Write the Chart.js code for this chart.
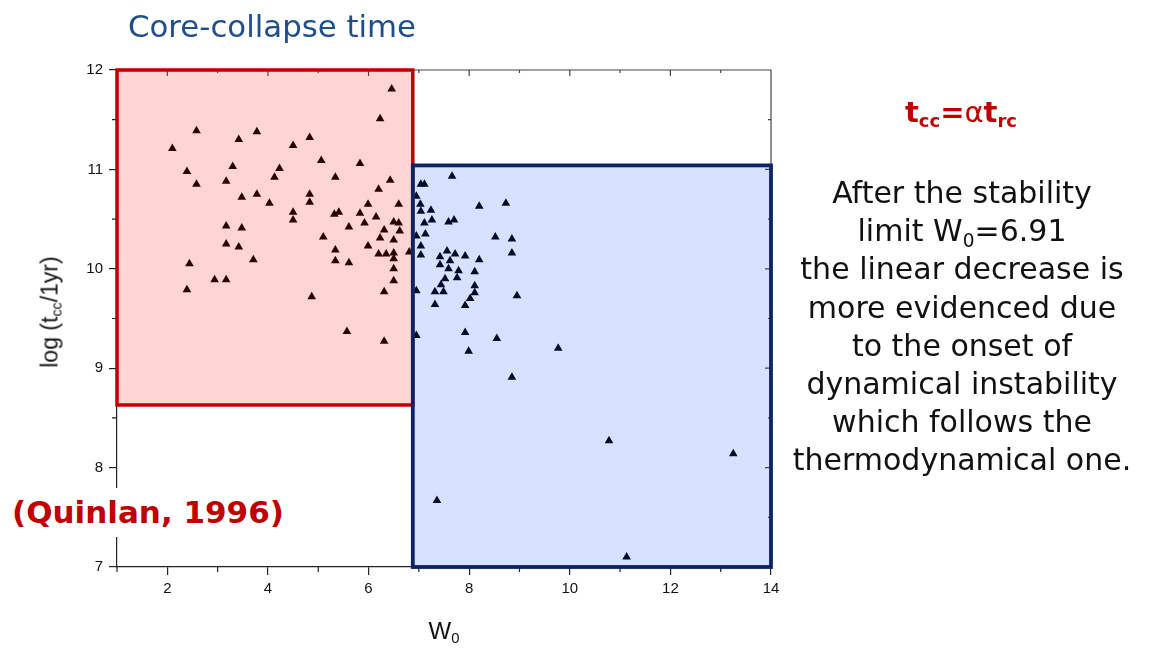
<!DOCTYPE html>
<html lang="en">
<head>
  <meta charset="UTF-8">
  <title>Core-collapse time</title>
  <script src="https://cdn.jsdelivr.net/npm/chart.js"></script>
  <style>
    body { margin: 0; background: #fff; width: 1155px; height: 651px; overflow: hidden; position: relative; }
    #chart { position: absolute; left: 0; top: 0; }
    .txt { position: absolute; font-family: "DejaVu Sans", Verdana, sans-serif; white-space: nowrap; }
    sub { font-size: 0.62em; vertical-align: -0.3em; line-height: 0; }
    #title { left: 128px; top: 11px; font-size: 30.8px; line-height: 30.8px; color: #1f4e8c; }
    #formula { left: 761px; width: 400px; top: 98px; text-align: center; font-size: 29px; line-height: 29px; font-weight: bold; color: #c00000; }
    #formula .alpha { font-weight: normal; }
    #note { left: 762px; width: 400px; top: 174px; text-align: center; font-size: 30px; line-height: 38.2px; color: #111; }
    #quinlan { left: 0; top: 488px; padding: 9px 8px 9px 12px; background: #fff; font-size: 31px; line-height: 31px; font-weight: bold; color: #c00000; }
    .axis-title { position: absolute; font-family: "Liberation Sans", Arial, sans-serif; color: #111; white-space: nowrap; }
    #xTitle { left: 444px; top: 631px; font-size: 24px; transform: translate(-50%, -50%); }
    #yTitle { left: 50px; top: 312px; font-size: 23px; transform: translate(-50%, -50%) rotate(-90deg); }
  </style>
</head>
<body>
  <canvas id="chart" width="1155" height="651"></canvas>

  <div class="txt" id="title">Core-collapse time</div>
  <div class="txt" id="formula">t<sub>cc</sub>=<span class="alpha">α</span>t<sub>rc</sub></div>
  <div class="txt" id="note">
    After the stability<br>
    limit W<sub>0</sub>=6.91<br>
    the linear decrease is<br>
    more evidenced due<br>
    to the onset of<br>
    dynamical instability<br>
    which follows the<br>
    thermodynamical one.
  </div>
  <div class="txt" id="quinlan">(Quinlan, 1996)</div>
  <div class="axis-title" id="xTitle">W<sub>0</sub></div>
  <div class="axis-title" id="yTitle">log (t<sub>cc</sub>/1yr)</div>

  <script>
    // W0 of each cluster and log of its core-collapse time
    const w0Values = [
      2.58, 3.78, 3.42, 2.10, 3.30, 2.39, 2.58, 3.17, 3.48, 3.78, 4.03, 3.17, 3.48,
      6.46, 6.23, 4.83, 4.50, 5.06, 5.83, 4.23, 4.13, 5.34, 6.43, 6.20, 4.83, 4.83,
      5.99, 6.60, 4.50, 4.50, 5.32, 5.41, 5.83, 6.15, 5.92, 5.61, 6.50, 6.60, 6.62,
      6.31, 5.10, 6.23, 6.50, 5.34, 5.99, 6.20, 6.35, 6.50, 6.50, 6.81, 5.34, 5.61,
      6.50, 6.50, 6.31, 4.87, 5.57, 6.31, 3.17, 3.42, 3.71, 2.44, 2.94, 3.17, 2.39,
      7.66, 7.04, 7.11, 6.95, 7.03, 7.04, 7.24, 8.20, 8.73, 7.11, 7.26, 7.59, 7.70,
      6.95, 7.13, 8.52, 8.85, 8.85, 7.04, 7.04, 7.42, 7.56, 7.72, 7.92, 7.62, 8.20,
      7.42, 7.59, 7.79, 7.76, 8.11, 7.52, 7.44, 8.11, 7.32, 7.49, 8.11, 6.95, 8.02,
      7.32, 7.92, 8.95, 6.95, 7.92, 8.55, 7.99, 9.77, 8.85, 7.36, 10.78, 13.25, 11.13
    ];
    const logTccValues = [
      11.39, 11.38, 11.30, 11.21, 11.03, 10.98, 10.85, 10.88, 10.72, 10.75, 10.66, 10.43, 10.41,
      11.81, 11.51, 11.32, 11.24, 11.09, 11.06, 11.01, 10.92, 10.92, 10.89, 10.80, 10.75, 10.67,
      10.65, 10.65, 10.57, 10.49, 10.55, 10.57, 10.56, 10.52, 10.46, 10.42, 10.47, 10.46, 10.38,
      10.39, 10.32, 10.31, 10.29, 10.19, 10.23, 10.15, 10.15, 10.16, 10.10, 10.17, 10.08, 10.06,
      10.00, 9.88, 9.77, 9.72, 9.37, 9.27, 10.25, 10.22, 10.09, 10.05, 9.89, 9.89, 9.79,
      10.93, 10.85, 10.85, 10.73, 10.65, 10.58, 10.59, 10.63, 10.66, 10.46, 10.49, 10.47, 10.49,
      10.33, 10.35, 10.32, 10.30, 10.16, 10.23, 10.14, 10.12, 10.18, 10.15, 10.13, 10.08, 10.09,
      10.04, 10.00, 9.98, 9.91, 9.97, 9.90, 9.84, 9.83, 9.77, 9.77, 9.76, 9.78, 9.70,
      9.64, 9.63, 9.73, 9.33, 9.36, 9.30, 9.17, 9.20, 8.91, 7.67, 8.27, 8.14, 7.10
    ];

    const xTicks = [2, 4, 6, 8, 10, 12, 14];
    const xMinorTicks = [1, 3, 5, 7, 9, 11, 13];
    const yTicks = [7, 8, 9, 10, 11, 12];
    const yMinorTicks = [7.5, 8.5, 9.5, 10.5, 11.5];

    // highlighted regions, in data units
    const redRegionW0 = [1, 6.88];
    const redRegionLog = [8.63, 12];
    const blueRegionW0 = [6.88, 14];
    const blueRegionLog = [7, 11.04];

    // frame, mirrored ticks and the two shaded boxes
    const framePlugin = {
      id: 'frame',
      afterDatasetsDraw(chart) {
        const { ctx, chartArea: a, scales: { x, y } } = chart;
        ctx.save();

        // top and right spines + inward ticks
        ctx.strokeStyle = '#444';
        ctx.lineWidth = 1.2;
        ctx.beginPath();
        ctx.moveTo(a.left, a.top); ctx.lineTo(a.right, a.top); ctx.lineTo(a.right, a.bottom);
        xTicks.forEach(v => { const p = x.getPixelForValue(v); ctx.moveTo(p, a.top); ctx.lineTo(p, a.top + 6); });
        xMinorTicks.forEach(v => { const p = x.getPixelForValue(v); ctx.moveTo(p, a.top); ctx.lineTo(p, a.top + 3); });
        yTicks.forEach(v => { const p = y.getPixelForValue(v); ctx.moveTo(a.right, p); ctx.lineTo(a.right - 6, p); });
        yMinorTicks.forEach(v => { const p = y.getPixelForValue(v); ctx.moveTo(a.right, p); ctx.lineTo(a.right - 3, p); });
        ctx.stroke();

        // outward minor ticks on bottom / left
        ctx.strokeStyle = '#222';
        ctx.beginPath();
        xMinorTicks.forEach(v => { const p = x.getPixelForValue(v); ctx.moveTo(p, a.bottom); ctx.lineTo(p, a.bottom + 5); });
        yMinorTicks.forEach(v => { const p = y.getPixelForValue(v); ctx.moveTo(a.left, p); ctx.lineTo(a.left - 5, p); });
        ctx.stroke();

        const box = (wr, lr, fill, edge, lw) => {
          const l = x.getPixelForValue(wr[0]), r = x.getPixelForValue(wr[1]);
          const t = y.getPixelForValue(lr[1]), b = y.getPixelForValue(lr[0]);
          ctx.fillStyle = fill;
          ctx.fillRect(l, t, r - l, b - t);
          ctx.strokeStyle = edge;
          ctx.lineWidth = lw;
          ctx.strokeRect(l, t, r - l, b - t);
        };
        box(redRegionW0, redRegionLog, 'rgba(255, 0, 0, 0.17)', '#c00000', 3.5);
        box(blueRegionW0, blueRegionLog, 'rgba(0, 75, 255, 0.16)', '#0c2466', 3.8);

        ctx.restore();
      }
    };

    const tickFont = { family: 'Liberation Sans', size: 15 };

    new Chart(document.getElementById('chart'), {
      type: 'scatter',
      data: {
        datasets: [{
          data: w0Values.map((w, i) => ({ x: w, y: logTccValues[i] })),
          pointStyle: 'triangle',
          pointRadius: 5,
          backgroundColor: '#000',
          borderColor: '#000',
          borderWidth: 0
        }]
      },
      options: {
        responsive: false,
        animation: false,
        layout: { padding: { left: 0, right: 384, top: 70, bottom: 0 } },
        plugins: { legend: { display: false }, tooltip: { enabled: false } },
        scales: {
          x: {
            type: 'linear',
            min: 1,
            max: 14,
            afterBuildTicks: s => { s.ticks = xTicks.map(v => ({ value: v })); },
            afterFit: s => { s.height = 84; },
            grid: { drawOnChartArea: false, drawTicks: true, tickLength: 8, color: '#222', lineWidth: 1.2 },
            border: { color: '#222', width: 1.2 },
            ticks: { color: '#111', font: tickFont, padding: 5, maxRotation: 0 }
          },
          y: {
            type: 'linear',
            min: 7,
            max: 12,
            afterBuildTicks: s => { s.ticks = yTicks.map(v => ({ value: v })); },
            afterFit: s => { s.width = 117; },
            grid: { drawOnChartArea: false, drawTicks: true, tickLength: 8, color: '#222', lineWidth: 1.2 },
            border: { color: '#222', width: 1.2 },
            ticks: { color: '#111', font: tickFont, padding: 6 }
          }
        }
      },
      plugins: [framePlugin]
    });
  </script>
</body>
</html>
